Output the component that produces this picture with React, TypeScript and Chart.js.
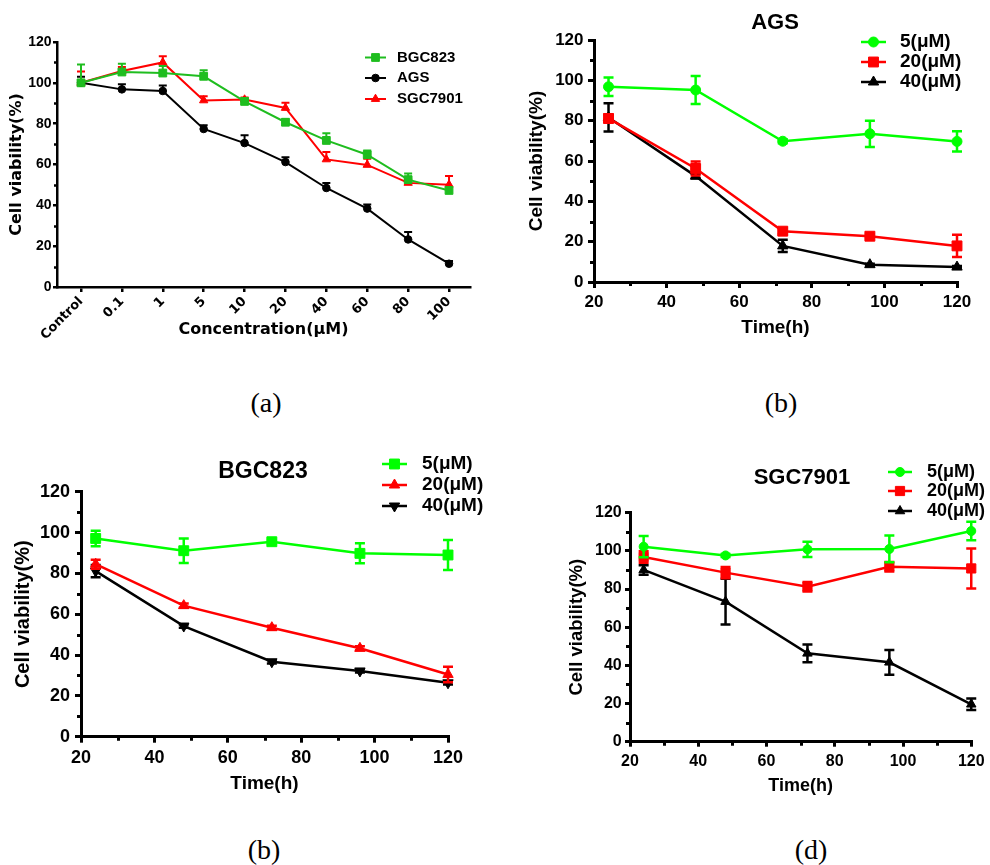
import React, { useEffect, useRef } from 'react';
import { Chart, registerables } from 'chart.js';

Chart.register(...registerables);

const SANS = '"Liberation Sans", Arial, Helvetica, sans-serif';
const WIDE = '"DejaVu Sans", Verdana, sans-serif';
const SERIF = '"Liberation Serif", "Times New Roman", serif';

// ---------------- Panel (a): dose response ----------------
const concentrationLabels = ['Control', '0.1', '1', '5', '10', '20', '40', '60', '80', '100'];
const concentrationIndex = concentrationLabels.map((_, i) => i);
const bgc823Dose = [100, 105.3, 104.8, 103.2, 90.9, 80.7, 71.8, 64.8, 52.6, 47.3];
const bgc823DoseErr = [9, 4, 3.5, 3, 1.5, 1.5, 3.5, 2, 3, 1.5];
const agsDose = [100, 96.8, 96.0, 77.4, 70.5, 61.2, 48.5, 38.4, 23.3, 11.4];
const agsDoseErr = [3, 2.5, 2.7, 1.8, 3.8, 2.4, 2.4, 2, 3.6, 1.3];
const sgc7901Dose = [100, 105.8, 110, 91.4, 91.8, 87.7, 62.5, 59.8, 51, 50.1];
const sgc7901DoseErr = [5.5, 2, 3, 2, 1, 2.5, 3.6, 3, 1.6, 4.3];

// ---------------- Time courses ----------------
const hours = [24, 48, 72, 96, 120];
const xMinorTicks = [30, 50, 70, 90, 110];
const yMinorTicks = [10, 30, 50, 70, 90, 110];

// AGS
const ags5 = [96.8, 95.2, 69.8, 73.5, 69.7];
const ags5Err = [4.6, 6.9, 1, 6.5, 5];
const ags20 = [81.1, 56.3, 25.2, 22.7, 17.9];
const ags20Err = [2, 3.5, 1.5, 1, 5.5];
const ags40 = [81.6, 52.5, 17.9, 8.6, 7.4];
const ags40Err = [7, 1, 3, 0.5, 0.5];

// BGC823
const bgc5 = [97.1, 91.1, 95.5, 89.8, 89];
const bgc5Err = [3.8, 6, 1, 4.9, 7.3];
const bgc20 = [84.5, 64.2, 53.4, 43.3, 30.5];
const bgc20Err = [2.2, 1, 1, 1, 3.8];
const bgc40 = [81.1, 54.2, 36.7, 32.2, 26.4];
const bgc40Err = [3, 0.8, 0.8, 0.8, 0.8];

// SGC7901
const sgc5 = [102.2, 97.6, 100.8, 101, 110.4];
const sgc5Err = [5.6, 0.8, 4, 7, 4.9];
const sgc20 = [96.8, 88.6, 81.2, 91.7, 90.8];
const sgc20Err = [3, 3, 2.5, 2.5, 10.5];
const sgc40 = [90, 73.4, 46.3, 41.6, 19.6];
const sgc40Err = [2.5, 12, 4.7, 6.5, 3];

const GREEN_A = '#1fbd1f';
const LIME = '#00ff00';
const RED = '#ff0000';
const BLACK = '#000000';

type Series = {
  label: string;
  values: number[];
  errors: number[];
  color: string;
  pointStyle: string;
  radius: number;
  rotation?: number;
};

type Spec = {
  box: { left: number; top: number; width: number; height: number };
  plot: { left: number; top: number; right: number; bottom: number };
  xValues: number[];
  xMin: number;
  xMax: number;
  xStep?: number;
  xTicks?: number[];
  xLabel: (v: number) => string;
  xRot: number;
  xTickFont: any;
  xTickLen: number;
  xTickPad: number;
  xTitle: string;
  xTitleFont: any;
  xTitlePad: number;
  yTickFont: any;
  yTickLen: number;
  yTickPad: number;
  yTitle: string;
  yTitleFont: any;
  yTitlePad: number;
  axisWidth: number;
  lineWidth: number;
  series: Series[];
  errDir: 'up' | 'both';
  errCap: number;
  errWidth: number;
  minorX: number[];
  minorY: number[];
  minorLen: number;
  title: { text: string; x: number; y: number; font: string } | null;
  legend: { x0: number; x1: number; textX: number; rows: number[]; font: string; lineWidth: number };
};

function drawMarker(ctx: CanvasRenderingContext2D, style: string, r: number, rotation: number, x: number, y: number) {
  ctx.beginPath();
  if (style === 'circle') {
    ctx.arc(x, y, r, 0, Math.PI * 2);
  } else if (style === 'rect') {
    const s = r * Math.SQRT1_2;
    ctx.rect(x - s, y - s, 2 * s, 2 * s);
  } else {
    let rad = (rotation * Math.PI) / 180;
    ctx.moveTo(x + Math.sin(rad) * r, y - Math.cos(rad) * r);
    rad += (2 * Math.PI) / 3;
    ctx.lineTo(x + Math.sin(rad) * r, y - Math.cos(rad) * r);
    rad += (2 * Math.PI) / 3;
    ctx.lineTo(x + Math.sin(rad) * r, y - Math.cos(rad) * r);
    ctx.closePath();
  }
  ctx.fill();
  ctx.stroke();
}

const overlayPlugin = {
  id: 'overlay',
  beforeDatasetDraw(chart: any, args: any, opts: any) {
    const ds = chart.data.datasets[args.index];
    const errs: number[] | undefined = ds.errorBars;
    if (!errs) return;
    const yScale = chart.scales.y;
    const ctx: CanvasRenderingContext2D = chart.ctx;
    ctx.save();
    ctx.strokeStyle = ds.borderColor;
    ctx.lineWidth = opts.errWidth;
    ctx.lineCap = 'butt';
    args.meta.data.forEach((pt: any, i: number) => {
      const raw = ds.data[i];
      const v = typeof raw === 'number' ? raw : raw.y;
      const e = errs[i];
      const top = yScale.getPixelForValue(v + e);
      const bot = opts.errDir === 'both' ? yScale.getPixelForValue(v - e) : pt.y;
      const half = opts.errCap / 2;
      ctx.beginPath();
      ctx.moveTo(pt.x, top);
      ctx.lineTo(pt.x, bot);
      ctx.moveTo(pt.x - half, top);
      ctx.lineTo(pt.x + half, top);
      if (opts.errDir === 'both') {
        ctx.moveTo(pt.x - half, bot);
        ctx.lineTo(pt.x + half, bot);
      }
      ctx.stroke();
    });
    ctx.restore();
  },
  afterDraw(chart: any, _args: any, opts: any) {
    const ctx: CanvasRenderingContext2D = chart.ctx;
    const xs = chart.scales.x;
    const ys = chart.scales.y;
    const area = chart.chartArea;
    ctx.save();
    // minor ticks
    ctx.strokeStyle = '#000';
    ctx.lineWidth = opts.tickWidth;
    ctx.beginPath();
    (opts.minorY as number[]).forEach((v) => {
      const py = Math.round(ys.getPixelForValue(v)) + 0.5;
      ctx.moveTo(area.left, py);
      ctx.lineTo(area.left - opts.minorLen, py);
    });
    (opts.minorX as number[]).forEach((v) => {
      const px = Math.round(xs.getPixelForValue(v)) + 0.5;
      ctx.moveTo(px, area.bottom);
      ctx.lineTo(px, area.bottom + opts.minorLen);
    });
    ctx.stroke();

    const ox = opts.boxLeft;
    const oy = opts.boxTop;
    // chart title
    if (opts.title) {
      ctx.fillStyle = '#000';
      ctx.font = opts.title.font;
      ctx.textAlign = 'center';
      ctx.textBaseline = 'middle';
      ctx.fillText(opts.title.text, opts.title.x - ox, opts.title.y - oy);
    }
    // legend
    const lg = opts.legend;
    chart.data.datasets.forEach((ds: any, i: number) => {
      const y = lg.rows[i] - oy;
      ctx.strokeStyle = ds.borderColor;
      ctx.fillStyle = ds.borderColor;
      ctx.lineWidth = lg.lineWidth;
      ctx.beginPath();
      ctx.moveTo(lg.x0 - ox, y);
      ctx.lineTo(lg.x1 - ox, y);
      ctx.stroke();
      ctx.lineWidth = 1;
      drawMarker(ctx, ds.pointStyle, ds.pointRadius, ds.pointRotation || 0, (lg.x0 + lg.x1) / 2 - ox, y);
      ctx.fillStyle = '#000';
      ctx.font = lg.font;
      ctx.textAlign = 'left';
      ctx.textBaseline = 'middle';
      ctx.fillText(ds.label, lg.textX - ox, y);
    });
    ctx.restore();
  },
};

function buildConfig(p: Spec) {
  const relT = p.plot.top - p.box.top;
  const relL = p.plot.left - p.box.left;
  const relR = p.box.left + p.box.width - p.plot.right;
  const relB = p.box.top + p.box.height - p.plot.bottom;
  const datasets = p.series.map((s) => ({
    label: s.label,
    data: s.values.map((v, i) => ({ x: p.xValues[i], y: v })),
    errorBars: s.errors,
    borderColor: s.color,
    backgroundColor: s.color,
    pointBackgroundColor: s.color,
    pointBorderColor: s.color,
    pointBorderWidth: 1,
    pointStyle: s.pointStyle,
    pointRadius: s.radius,
    pointRotation: s.rotation || 0,
    borderWidth: p.lineWidth,
    tension: 0,
    fill: false,
    clip: false,
  }));
  const xTicks = p.xTicks;
  return {
    type: 'line',
    data: { datasets },
    options: {
      animation: false,
      responsive: false,
      events: [],
      layout: { padding: { left: 0, top: relT, right: relR, bottom: 0 } },
      plugins: {
        legend: { display: false },
        tooltip: { enabled: false },
        title: { display: false },
        overlay: {
          boxLeft: p.box.left,
          boxTop: p.box.top,
          errDir: p.errDir,
          errCap: p.errCap,
          errWidth: p.errWidth,
          minorX: p.minorX,
          minorY: p.minorY,
          minorLen: p.minorLen,
          tickWidth: p.axisWidth,
          title: p.title,
          legend: p.legend,
        },
      },
      scales: {
        x: {
          type: 'linear',
          min: p.xMin,
          max: p.xMax,
          afterFit: (s: any) => {
            s.height = relB;
          },
          afterBuildTicks: xTicks
            ? (s: any) => {
                s.ticks = xTicks.map((v) => ({ value: v }));
              }
            : undefined,
          ticks: {
            stepSize: p.xStep,
            autoSkip: false,
            minRotation: p.xRot,
            maxRotation: p.xRot,
            padding: p.xTickPad,
            color: '#000',
            font: p.xTickFont,
            callback: (v: any) => p.xLabel(Number(v)),
          },
          grid: {
            drawOnChartArea: false,
            color: '#000',
            lineWidth: p.axisWidth,
            tickLength: p.xTickLen,
          },
          border: { color: '#000', width: p.axisWidth },
          title: {
            display: true,
            text: p.xTitle,
            color: '#000',
            font: p.xTitleFont,
            padding: { top: 0, bottom: p.xTitlePad },
          },
        },
        y: {
          type: 'linear',
          min: 0,
          max: 120,
          afterFit: (s: any) => {
            s.width = relL;
          },
          ticks: {
            stepSize: 20,
            padding: p.yTickPad,
            color: '#000',
            font: p.yTickFont,
            callback: (v: any) => String(v),
          },
          grid: {
            drawOnChartArea: false,
            color: '#000',
            lineWidth: p.axisWidth,
            tickLength: p.yTickLen,
          },
          border: { color: '#000', width: p.axisWidth },
          title: {
            display: true,
            text: p.yTitle,
            color: '#000',
            font: p.yTitleFont,
            padding: { top: p.yTitlePad, bottom: 0 },
          },
        },
      },
    },
    plugins: [overlayPlugin],
  };
}

const timeLabel = (v: number) => String(v);
const bold = (family: string, size: number) => ({ family, size, weight: 'bold' as const });

const PANELS: Spec[] = [
  {
    box: { left: 0, top: 0, width: 490, height: 360 },
    plot: { left: 57, top: 42, right: 470, bottom: 287 },
    xValues: concentrationIndex,
    xMin: -0.587,
    xMax: 9.513,
    xTicks: concentrationIndex,
    xLabel: (v) => concentrationLabels[v] ?? '',
    xRot: 45,
    xTickFont: bold(WIDE, 13),
    xTickLen: 5,
    xTickPad: 2,
    xTitle: 'Concentration(μM)',
    xTitleFont: bold(WIDE, 16),
    xTitlePad: 20.4,
    yTickFont: bold(SANS, 14),
    yTickLen: 4,
    yTickPad: 1.5,
    yTitle: 'Cell viability(%)',
    yTitleFont: bold(WIDE, 16),
    yTitlePad: 7.4,
    axisWidth: 2.5,
    lineWidth: 2,
    series: [
      { label: 'BGC823', values: bgc823Dose, errors: bgc823DoseErr, color: GREEN_A, pointStyle: 'rect', radius: 5.5 },
      { label: 'AGS', values: agsDose, errors: agsDoseErr, color: BLACK, pointStyle: 'circle', radius: 3.8 },
      { label: 'SGC7901', values: sgc7901Dose, errors: sgc7901DoseErr, color: RED, pointStyle: 'triangle', radius: 4.8 },
    ],
    errDir: 'up',
    errCap: 8,
    errWidth: 2,
    minorX: [],
    minorY: yMinorTicks,
    minorLen: 3,
    title: null,
    legend: { x0: 365, x1: 386, textX: 397, rows: [57.5, 78, 99], font: `bold 15px ${SANS}`, lineWidth: 2 },
  },
  {
    box: { left: 495, top: 0, width: 495, height: 350 },
    plot: { left: 594, top: 40, right: 957, bottom: 282 },
    xValues: hours,
    xMin: 20,
    xMax: 120,
    xStep: 20,
    xLabel: timeLabel,
    xRot: 0,
    xTickFont: bold(SANS, 17),
    xTickLen: 6,
    xTickPad: 4,
    xTitle: 'Time(h)',
    xTitleFont: bold(SANS, 19),
    xTitlePad: 10.6,
    yTickFont: bold(SANS, 17),
    yTickLen: 6,
    yTickPad: 4.5,
    yTitle: 'Cell viability(%)',
    yTitleFont: bold(SANS, 19),
    yTitlePad: 30.3,
    axisWidth: 3,
    lineWidth: 2.5,
    series: [
      { label: '5(μM)', values: ags5, errors: ags5Err, color: LIME, pointStyle: 'circle', radius: 5 },
      { label: '20(μM)', values: ags20, errors: ags20Err, color: RED, pointStyle: 'rect', radius: 7 },
      { label: '40(μM)', values: ags40, errors: ags40Err, color: BLACK, pointStyle: 'triangle', radius: 6 },
    ],
    errDir: 'both',
    errCap: 10,
    errWidth: 2.5,
    minorX: xMinorTicks,
    minorY: yMinorTicks,
    minorLen: 4,
    title: { text: 'AGS', x: 775, y: 23, font: `bold 22px ${SANS}` },
    legend: { x0: 861, x1: 886, textX: 900, rows: [42, 62, 82], font: `bold 19px ${SANS}`, lineWidth: 2.5 },
  },
  {
    box: { left: 0, top: 430, width: 495, height: 370 },
    plot: { left: 81, top: 491.7, right: 448, bottom: 736.7 },
    xValues: hours,
    xMin: 20,
    xMax: 120,
    xStep: 20,
    xLabel: timeLabel,
    xRot: 0,
    xTickFont: bold(SANS, 18),
    xTickLen: 6,
    xTickPad: 4.5,
    xTitle: 'Time(h)',
    xTitleFont: bold(SANS, 19),
    xTitlePad: 4.6,
    yTickFont: bold(SANS, 18),
    yTickLen: 6,
    yTickPad: 5,
    yTitle: 'Cell viability(%)',
    yTitleFont: bold(SANS, 20),
    yTitlePad: 11,
    axisWidth: 3,
    lineWidth: 2.5,
    series: [
      { label: '5(μM)', values: bgc5, errors: bgc5Err, color: LIME, pointStyle: 'rect', radius: 7 },
      { label: '20(μM)', values: bgc20, errors: bgc20Err, color: RED, pointStyle: 'triangle', radius: 6 },
      { label: '40(μM)', values: bgc40, errors: bgc40Err, color: BLACK, pointStyle: 'triangle', radius: 6, rotation: 180 },
    ],
    errDir: 'both',
    errCap: 10,
    errWidth: 2.5,
    minorX: xMinorTicks,
    minorY: yMinorTicks,
    minorLen: 4,
    title: { text: 'BGC823', x: 263, y: 472, font: `bold 23px ${SANS}` },
    legend: { x0: 382, x1: 407, textX: 422, rows: [464, 485, 506], font: `bold 19px ${SANS}`, lineWidth: 2.5 },
  },
  {
    box: { left: 495, top: 430, width: 495, height: 370 },
    plot: { left: 630, top: 512.7, right: 974, bottom: 741.7 },
    xValues: hours,
    xMin: 20,
    xMax: 120,
    xStep: 20,
    xLabel: timeLabel,
    xRot: 0,
    xTickFont: bold(SANS, 16),
    xTickLen: 5,
    xTickPad: 5.4,
    xTitle: 'Time(h)',
    xTitleFont: bold(SANS, 18),
    xTitlePad: 3.2,
    yTickFont: bold(SANS, 16),
    yTickLen: 5,
    yTickPad: 3.3,
    yTitle: 'Cell viability(%)',
    yTitleFont: bold(SANS, 18.5),
    yTitlePad: 70.9,
    axisWidth: 3,
    lineWidth: 2.5,
    series: [
      { label: '5(μM)', values: sgc5, errors: sgc5Err, color: LIME, pointStyle: 'circle', radius: 4.5 },
      { label: '20(μM)', values: sgc20, errors: sgc20Err, color: RED, pointStyle: 'rect', radius: 6.5 },
      { label: '40(μM)', values: sgc40, errors: sgc40Err, color: BLACK, pointStyle: 'triangle', radius: 5.5 },
    ],
    errDir: 'both',
    errCap: 10,
    errWidth: 2.5,
    minorX: xMinorTicks,
    minorY: yMinorTicks,
    minorLen: 4,
    title: { text: 'SGC7901', x: 802, y: 478, font: `bold 22px ${SANS}` },
    legend: { x0: 888, x1: 912, textX: 927, rows: [472, 491, 511], font: `bold 18px ${SANS}`, lineWidth: 2.5 },
  },
];

const PANEL_LETTERS = [
  { text: '(a)', x: 266, y: 403 },
  { text: '(b)', x: 781, y: 403 },
  { text: '(b)', x: 264, y: 850 },
  { text: '(d)', x: 811, y: 850 },
];

function ChartPanel({ spec }: { spec: Spec }) {
  const ref = useRef<HTMLCanvasElement>(null);
  useEffect(() => {
    if (!ref.current) return;
    const chart = new Chart(ref.current, buildConfig(spec) as any);
    return () => chart.destroy();
  }, [spec]);
  const b = spec.box;
  return (
    <canvas
      ref={ref}
      width={b.width}
      height={b.height}
      style={{ position: 'absolute', left: b.left, top: b.top, width: b.width, height: b.height }}
    />
  );
}

export default function App() {
  return (
    <div
      style={{
        position: 'absolute',
        left: 0,
        top: 0,
        width: 990,
        height: 865,
        background: '#fff',
        overflow: 'hidden',
      }}
    >
      {PANELS.map((p, i) => (
        <ChartPanel key={i} spec={p} />
      ))}
      {PANEL_LETTERS.map((l, i) => (
        <div
          key={i}
          style={{
            position: 'absolute',
            left: l.x,
            top: l.y,
            transform: 'translate(-50%, -50%)',
            fontFamily: SERIF,
            fontSize: 28,
            lineHeight: 1,
            whiteSpace: 'nowrap',
            color: '#000',
          }}
        >
          {l.text}
        </div>
      ))}
    </div>
  );
}
